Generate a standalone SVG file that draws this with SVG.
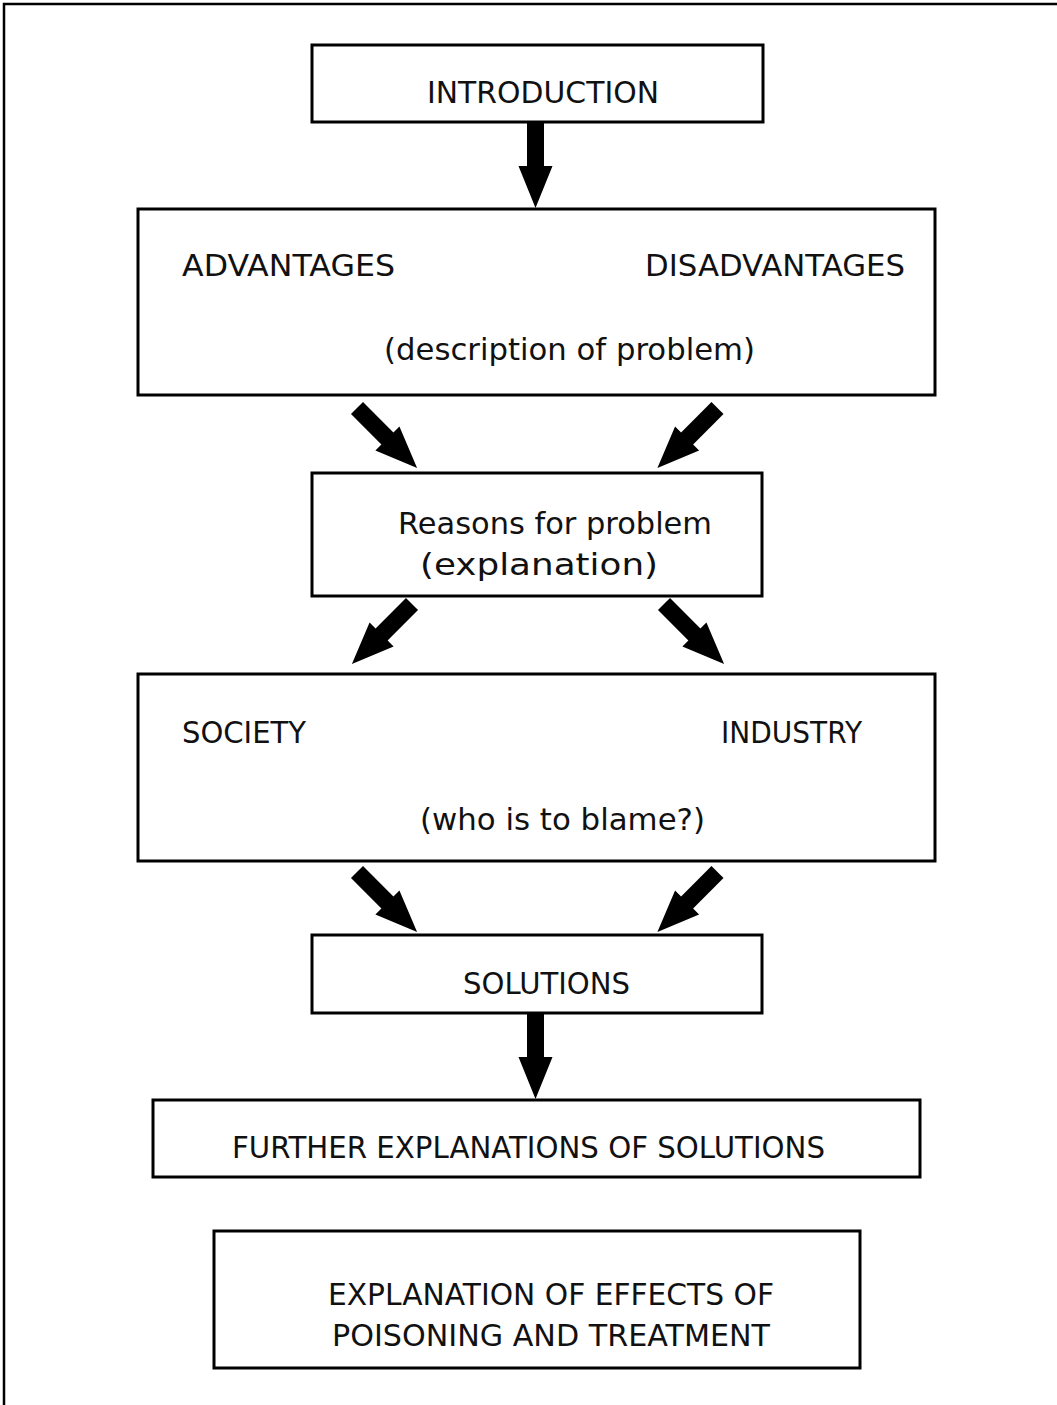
<svg xmlns="http://www.w3.org/2000/svg" xmlns:xlink="http://www.w3.org/1999/xlink" width="1057" height="1405" viewBox="0 0 1057 1405">
  <style>
    .box { fill: #fff; stroke: #000; stroke-width: 3; }
    .frame { fill: none; stroke: #000; stroke-width: 2.5; }
    .lbl { font-family: "DejaVu Sans", "Liberation Sans", sans-serif; font-size: 30px; fill: #111; }
    .arrow { fill: #000; }
  </style>
  <defs>
    <!-- block arrow pointing along +x, tail centred at the origin -->
    <path id="blockArrow" class="arrow" d="M0,-8.5 L43,-8.5 L43,-17 L85,0 L43,17 L43,8.5 L0,8.5 Z"/>
  </defs>

  <rect width="1057" height="1405" fill="#fff"/>
  <rect class="frame" x="4" y="4" width="1120" height="1480"/>

  <g id="connectors">
    <use xlink:href="#blockArrow" transform="translate(535.5,123) rotate(90)"/>
    <use xlink:href="#blockArrow" transform="translate(357,408) rotate(45)"/>
    <use xlink:href="#blockArrow" transform="translate(717.5,408) rotate(135)"/>
    <use xlink:href="#blockArrow" transform="translate(412,604) rotate(135)"/>
    <use xlink:href="#blockArrow" transform="translate(664,604) rotate(45)"/>
    <use xlink:href="#blockArrow" transform="translate(357,872) rotate(45)"/>
    <use xlink:href="#blockArrow" transform="translate(717.5,872) rotate(135)"/>
    <use xlink:href="#blockArrow" transform="translate(535.5,1014) rotate(90)"/>
  </g>

  <g id="introduction">
    <rect class="box" x="312" y="45" width="451" height="77"/>
    <text class="lbl" x="427" y="103" textLength="232" lengthAdjust="spacingAndGlyphs">INTRODUCTION</text>
  </g>

  <g id="advantages">
    <rect class="box" x="138" y="209" width="797" height="186"/>
    <text class="lbl" x="182" y="276" textLength="213" lengthAdjust="spacingAndGlyphs">ADVANTAGES</text>
    <text class="lbl" x="645" y="276" textLength="260" lengthAdjust="spacingAndGlyphs">DISADVANTAGES</text>
    <text class="lbl" x="384" y="360" textLength="371" lengthAdjust="spacingAndGlyphs">(description of problem)</text>
  </g>

  <g id="reasons">
    <rect class="box" x="312" y="473" width="450" height="123"/>
    <text class="lbl" x="398" y="534" textLength="314" lengthAdjust="spacingAndGlyphs">Reasons for problem</text>
    <text class="lbl" x="420" y="575" textLength="238" lengthAdjust="spacingAndGlyphs">(explanation)</text>
  </g>

  <g id="blame">
    <rect class="box" x="138" y="674" width="797" height="187"/>
    <text class="lbl" x="182" y="743" textLength="124" lengthAdjust="spacingAndGlyphs">SOCIETY</text>
    <text class="lbl" x="721" y="743" textLength="141" lengthAdjust="spacingAndGlyphs">INDUSTRY</text>
    <text class="lbl" x="420" y="830" textLength="285" lengthAdjust="spacingAndGlyphs">(who is to blame?)</text>
  </g>

  <g id="solutions">
    <rect class="box" x="312" y="935" width="450" height="78"/>
    <text class="lbl" x="463" y="994" textLength="167" lengthAdjust="spacingAndGlyphs">SOLUTIONS</text>
  </g>

  <g id="further">
    <rect class="box" x="153" y="1100" width="767" height="77"/>
    <text class="lbl" x="232" y="1158" textLength="593" lengthAdjust="spacingAndGlyphs">FURTHER EXPLANATIONS OF SOLUTIONS</text>
  </g>

  <g id="effects">
    <rect class="box" x="214" y="1231" width="646" height="137"/>
    <text class="lbl" x="328" y="1305" textLength="446" lengthAdjust="spacingAndGlyphs">EXPLANATION OF EFFECTS OF</text>
    <text class="lbl" x="332" y="1346" textLength="438" lengthAdjust="spacingAndGlyphs">POISONING AND TREATMENT</text>
  </g>
</svg>
